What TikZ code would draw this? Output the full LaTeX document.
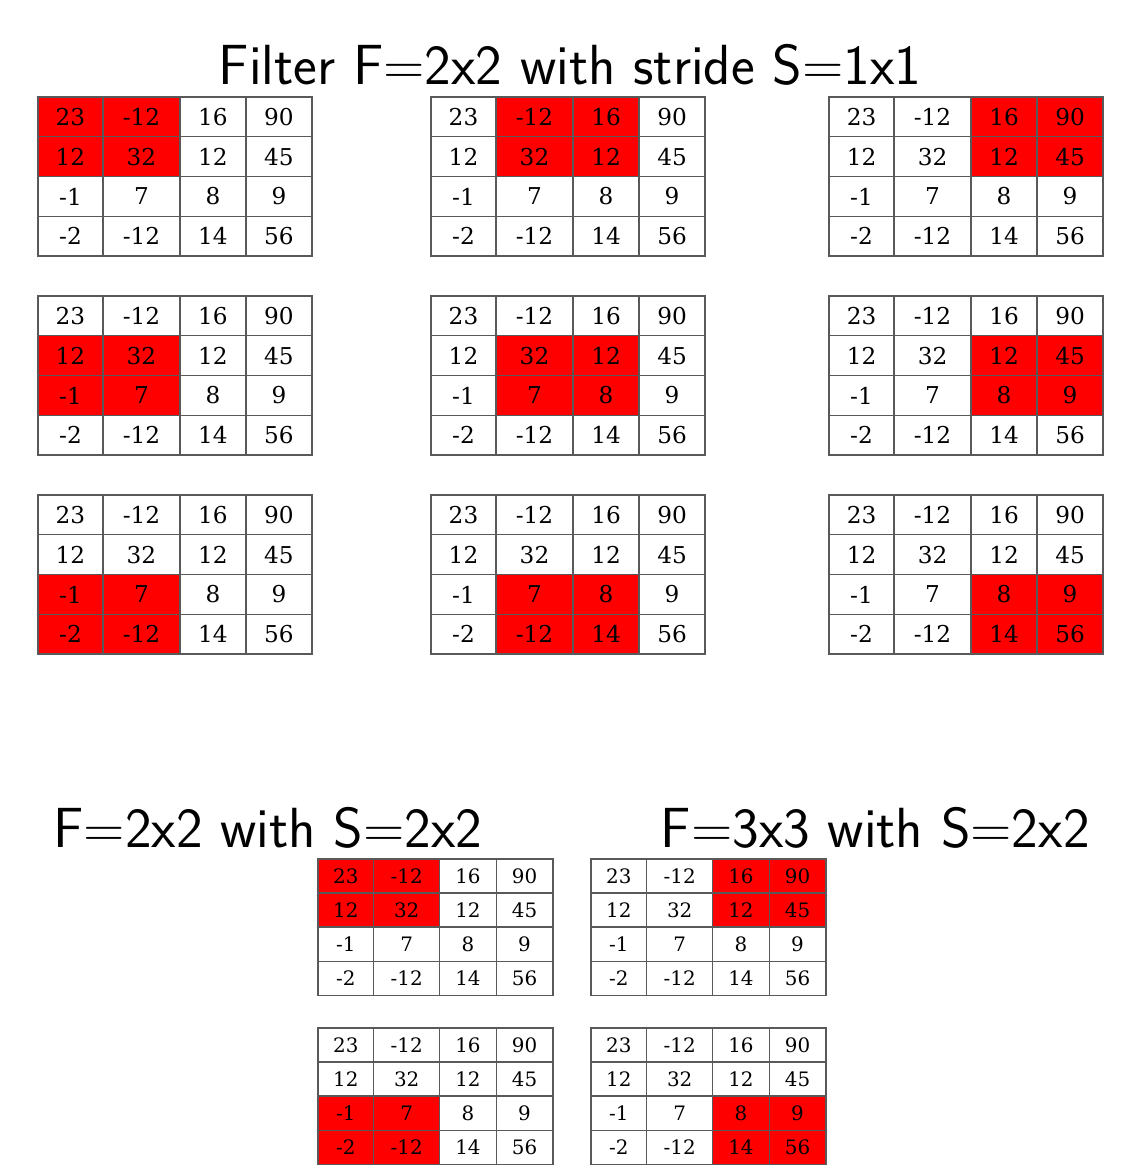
\documentclass[tikz,border=0pt]{standalone}
\usepackage{tikz}
\usepackage{fontspec}
\newfontfamily\cellfont{DejaVu Serif}

\begin{document}
\begin{tikzpicture}[x=0.5pt,y=-0.5pt,
  cell/.style={draw=black!65,line width=0.7pt,inner sep=0pt,outer sep=0pt,rectangle,text=black},
  heading/.style={font=\sffamily\fontsize{28.3}{32}\selectfont,inner sep=0pt,anchor=base}]
\useasboundingbox (0,0) rectangle (1140,1176);
\node[heading] (ttop) at (570,85) {Filter F=2x2 with stride S=1x1};
\node[heading,anchor=base west] (tleft) at (53,847) {F=2x2 with S=2x2};
\node[heading,anchor=base east] (tright) at (1090,847) {F=3x3 with S=2x2};
% one 4x4 input per map, the filter window in red
\foreach \m/\mx/\my/\ms/\hc/\hr in %
{s11/38/97/1/0/0,s12/431/97/1/1/0,s13/829/97/1/2/0,
 s21/38/296/1/0/1,s22/431/296/1/1/1,s23/829/296/1/2/1,
 s31/38/495/1/0/2,s32/431/495/1/1/2,s33/829/495/1/2/2,
 a1/318/859/0.857/0/0,a2/318/1028/0.857/0/2,
 b1/591/859/0.857/2/0,b2/591/1028/0.857/2/2} {
  \foreach \i/\j/\v in %
  {0/0/23,0/1/-12,0/2/16,0/3/90,1/0/12,1/1/32,1/2/12,1/3/45,
   2/0/-1,2/1/7,2/2/8,2/3/9,3/0/-2,3/1/-12,3/2/14,3/3/56} {
    \pgfmathsetmacro\cx{\mx+\ms*{32.5,103.5,175,241}[\j]}
    \pgfmathsetmacro\cy{\my+\ms*(19.9+39.75*\i)}
    \pgfmathsetmacro\cw{\ms*{65,77,66,66}[\j]}
    \pgfmathsetmacro\ch{\ms*39.75}
    \pgfmathsetmacro\fs{11.6*\ms}
    \pgfmathtruncatemacro\hit{and(and(\j>=\hc,\j<=\hc+1),and(\i>=\hr,\i<=\hr+1))}
    \ifnum\hit=1 \def\cfill{red}\else\def\cfill{white}\fi
    \node[cell,fill=\cfill,minimum width=0.5pt*\cw,minimum height=0.5pt*\ch]
      (\m-\i-\j) at (\cx,\cy) {\cellfont\fontsize{\fs}{\fs}\selectfont \v};
  }
}
\end{tikzpicture}
\end{document}
